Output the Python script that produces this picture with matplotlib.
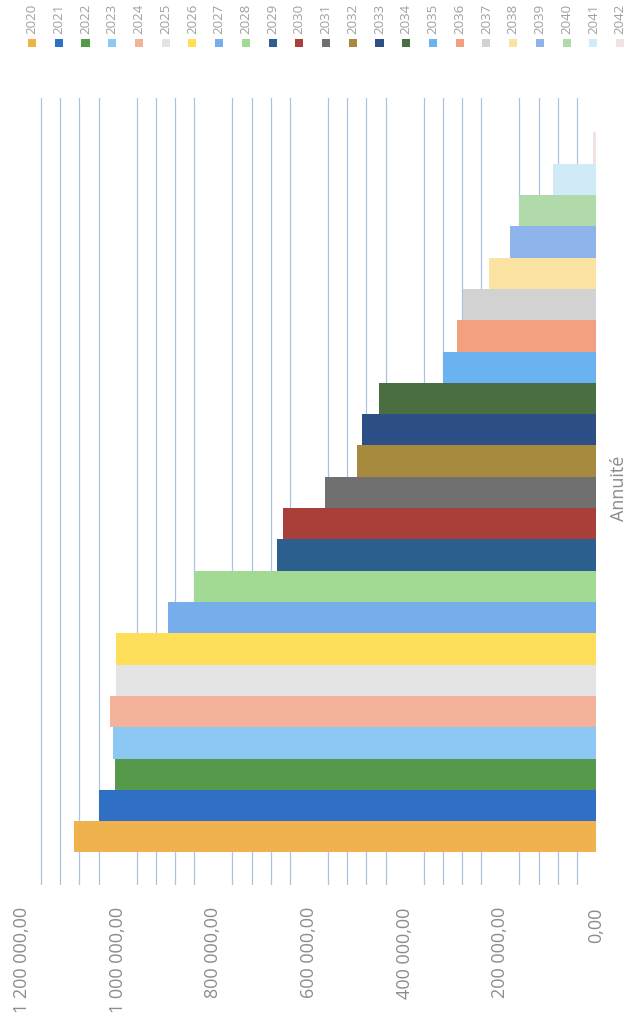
import matplotlib
matplotlib.use("Agg")
import matplotlib.pyplot as plt
from matplotlib.ticker import MultipleLocator
from matplotlib.transforms import ScaledTranslation

# Annual amounts per year (one series per year, single category "Annuité")
years = ["2020", "2021", "2022", "2023", "2024", "2025", "2026", "2027",
         "2028", "2029", "2030", "2031", "2032", "2033", "2034", "2035",
         "2036", "2037", "2038", "2039", "2040", "2041", "2042"]
amounts = [1091000, 1038000, 1005000, 1009000, 1015000, 1003000, 1003000,
           894000, 840000, 667000, 654000, 566000, 499000, 489000, 453000,
           320000, 290000, 278000, 224000, 180000, 161000, 90000, 6000]
colors = ["#F0B24C", "#2F6FC4", "#56994A", "#8DC8F5", "#F5B29A", "#E4E4E4",
          "#FDDF5A", "#77ADEB", "#A2D993", "#2B5F8E", "#A83F3A", "#707070",
          "#A88A3E", "#2E4F86", "#4A6E3F", "#6BB3F0", "#F2A07F", "#D2D2D2",
          "#FCE3A4", "#8FB4EC", "#B1DAAA", "#D0EAF8", "#F3E2E2"]
category = "Annuité"
tick_values = [0, 200000, 400000, 600000, 800000, 1000000, 1200000]


def fmt(v):
    return f"{v:,.2f}".replace(",", " ").replace(".", ",")


tick_labels = [fmt(v) for v in tick_values]

plt.rcParams["font.family"] = ["Open Sans", "DejaVu Sans"]
text_grey = "#8c8c8c"

W, H = 629, 1022
fig = plt.figure(figsize=(W / 100, H / 100), dpi=100)

# Main plot area (chart is laid out turned on its side)
left_px, right_px, top_px, bottom_px = 22, 596, 98, 885
ax = fig.add_axes([left_px / W, 1 - bottom_px / H,
                   (right_px - left_px) / W, (bottom_px - top_px) / H])

positions = list(range(len(years)))
ax.barh(positions, amounts, height=1.0, color=colors, zorder=2)

ax.set_xlim(1200000, 0)
ax.set_ylim(-1.54, 23.6)
ax.set_xticks(tick_values)
ax.set_xticklabels(tick_labels, rotation=90, va="top", ha="center",
                   fontsize=13, color=text_grey)
shift = ScaledTranslation(-3 / 100, 0, fig.dpi_scale_trans)
for lbl in ax.get_xticklabels():
    lbl.set_transform(lbl.get_transform() + shift)
ax.xaxis.set_minor_locator(MultipleLocator(40000))
ax.grid(False)
ax.grid(which="minor", axis="x", color="#afc1e2", linewidth=0.9, zorder=0)
ax.tick_params(axis="x", which="both", length=0, pad=16)
ax.set_yticks([])
for s in ax.spines.values():
    s.set_visible(False)

# Category label on the right edge
fig.text(628 / W, 1 - 488 / H, category, rotation=90, ha="right", va="center",
         fontsize=13, color=text_grey)

# Legend strip along the top
lax = fig.add_axes([0, 1 - 60 / H, 1, 60 / H])
lax.set_xlim(-32 / 26.73, (W - 32) / 26.73)
lax.set_ylim(60, 0)
lax.axis("off")
lax.scatter(positions, [43] * len(positions), marker="s", s=34, c=colors,
            edgecolors="none")
for i, y in enumerate(years):
    lax.text(i, 34, y, rotation=90, ha="center", va="bottom", fontsize=9.5,
             color="#a0a0a0")

fig.savefig("out.png", dpi=100, facecolor="white")
